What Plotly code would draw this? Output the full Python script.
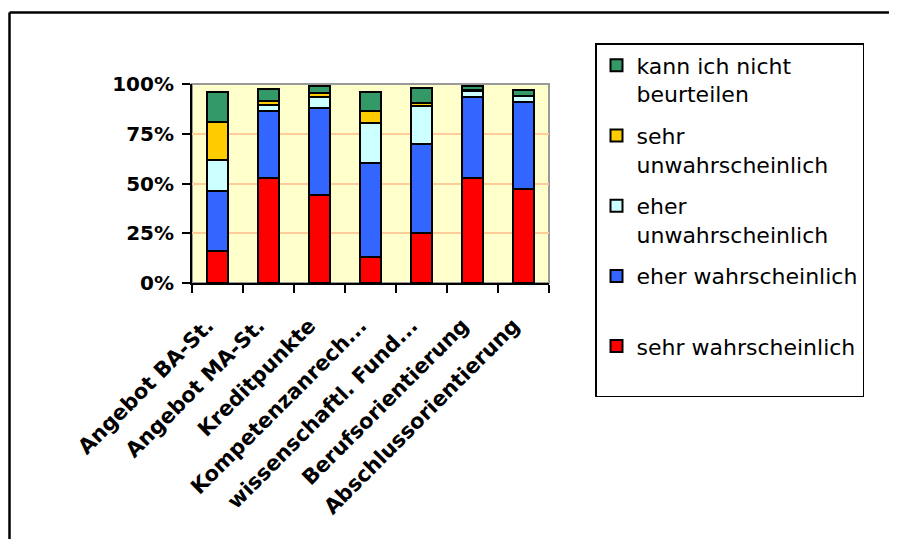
import plotly.graph_objects as go

categories = ["Angebot BA-St.", "Angebot MA-St.", "Kreditpunkte", "Kompetenzanrech...",
              "wissenschaftl. Fund...", "Berufsorientierung", "Abschlussorientierung"]

sehr_wahrscheinlich = [16, 53, 44, 13, 25, 53, 47]
eher_wahrscheinlich = [30, 33.5, 44, 47.5, 45, 40.5, 44]
eher_unwahrscheinlich = [16, 3, 5.5, 20, 19, 3, 3]
sehr_unwahrscheinlich = [19, 2, 2, 6, 1.5, 0.5, 0]
kann_nicht_beurteilen = [15, 6, 3.5, 9.5, 7.5, 2, 3]

series = [
    ("sehr wahrscheinlich<br>&nbsp;", sehr_wahrscheinlich, "#FF0000"),
    ("eher wahrscheinlich<br>&nbsp;", eher_wahrscheinlich, "#3366FF"),
    ("eher<br>unwahrscheinlich", eher_unwahrscheinlich, "#CCFFFF"),
    ("sehr<br>unwahrscheinlich", sehr_unwahrscheinlich, "#FFCC00"),
    ("kann ich nicht<br>beurteilen", kann_nicht_beurteilen, "#339966"),
]

y_ticks = [0, 25, 50, 75, 100]
y_ticktext = ["0%", "25%", "50%", "75%", "100%"]

fig = go.Figure()
n = len(series)
for i, (name, vals, color) in enumerate(series):
    fig.add_trace(go.Bar(
        x=categories, y=vals, name=name, legendgroup=f"g{i}", legendrank=n - i,
        marker=dict(color=color, line=dict(color="black", width=2)),
    ))

# page has an 8px body margin; screen coords of the plot area in the reference
OFF = 8
W, H = 897, 539
sx0, sx1, sy0, sy1 = 192, 549, 84, 283
L, R = sx0 - OFF, W - (sx1 - OFF)
T, B = sy0 - OFF, H - (sy1 - OFF)
pw, ph = W - L - R, H - T - B


def px(sx):
    return (sx - sx0) / pw


def py(sy):
    return (sy1 - sy) / ph


fig.update_layout(
    width=W, height=H,
    barmode="stack", bargap=0.57,
    paper_bgcolor="white", plot_bgcolor="#FFFFCC",
    margin=dict(l=L, r=R, t=T, b=B, pad=0, autoexpand=False),
    font=dict(family="DejaVu Sans", color="black", size=20),
    showlegend=True,
    legend=dict(
        x=px(595), y=py(43), xanchor="left", yanchor="top",
        bgcolor="white", bordercolor="black", borderwidth=1.5,
        font=dict(family="DejaVu Sans", size=22, color="black"),
        traceorder="grouped", tracegroupgap=10, valign="top",
        maxheight=420,
    ),
    xaxis=dict(
        type="category", tickangle=-45, showgrid=False,
        showline=True, linecolor="black", linewidth=2,
        ticks="outside", tickson="boundaries", ticklen=8, tickwidth=2, tickcolor="black",
        ticklabelstandoff=20, ticklabelshift=-10,
        tickfont=dict(family="DejaVu Sans", size=21, color="black", weight="bold"),
    ),
    yaxis=dict(
        range=[0, 100], tickvals=y_ticks, ticktext=y_ticktext,
        showgrid=True, gridcolor="#FFCC99", gridwidth=1.5,
        showline=True, linecolor="black", linewidth=2,
        ticks="outside", ticklen=8, tickwidth=2, tickcolor="black",
        ticklabelstandoff=4,
        tickfont=dict(family="DejaVu Sans", size=20, color="black", weight="bold"),
        zeroline=False,
    ),
    shapes=[
        dict(type="rect", xref="paper", yref="paper", x0=0, x1=1, y0=0, y1=1,
             line=dict(color="#999999", width=2), layer="below"),
        dict(type="line", xref="paper", yref="paper",
             x0=px(9.5), x1=px(W + 10), y0=py(12.5), y1=py(12.5),
             line=dict(color="black", width=2.5)),
        dict(type="line", xref="paper", yref="paper",
             x0=px(9.5), x1=px(9.5), y0=py(12.5), y1=py(H + 10),
             line=dict(color="black", width=2.5)),
    ],
)

fig.write_html("out.html")
